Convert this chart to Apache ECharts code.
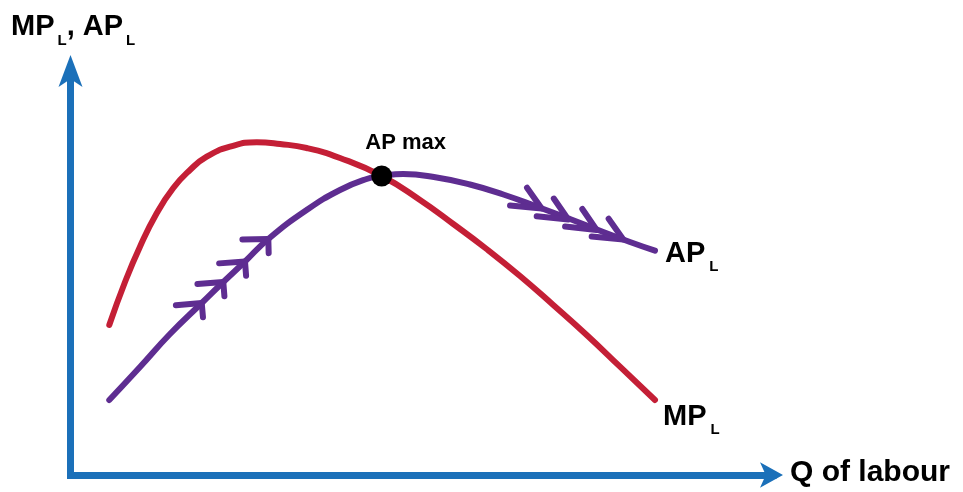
<!DOCTYPE html>
<html>
<head>
<meta charset="utf-8">
<script src="https://cdn.jsdelivr.net/npm/echarts@6/dist/echarts.min.js"></script>
<style>
html,body{margin:0;padding:0;background:#fff;}
#chart{width:963px;height:492px;}
</style>
</head>
<body>
<div id="chart"></div>
<script>
// Quantity of labour (x) and product values (y) (abstract units 0-100)
const mpX = [5.52, 7.76, 9.89, 12.27, 14.63, 17.01, 19.39, 22.70, 26.51, 29.82, 33.62, 38.36, 44.30, 49.75, 54.49, 59.23, 63.99, 68.72, 73.48, 78.22, 83.20];
const mpY = [36.86, 47.42, 56.09, 64.30, 70.52, 74.94, 78.21, 80.66, 81.77, 81.33, 80.34, 77.89, 73.46, 67.57, 61.67, 55.53, 48.89, 41.77, 34.40, 26.61, 18.43];
const apX = [5.52, 9.89, 14.16, 18.68, 21.75, 24.84, 28.16, 33.62, 38.36, 42.16, 44.30, 47.37, 52.13, 56.87, 61.61, 66.36, 71.10, 75.84, 79.64, 83.20];
const apY = [18.43, 26.54, 34.64, 42.26, 47.42, 52.46, 57.99, 65.11, 70.02, 72.73, 73.46, 73.96, 73.10, 71.38, 68.92, 65.97, 62.90, 59.71, 57.25, 55.11];
// direction chevrons on the AP curve (tip positions)
const chevUpX = [18.68, 21.75, 24.84, 28.16];
const chevUpY = [42.26, 47.42, 52.46, 57.99];
const chevDownX = [67.07, 70.86, 74.90, 78.69];
const chevDownY = [65.48, 62.78, 60.20, 57.86];
// maximum of AP
const apMaxPoint = [44.30, 73.46];
const apMaxLabel = 'AP max';
const yAxisTitle = ['MP', 'L', ', AP', 'L'];
const xAxisTitle = 'Q of labour';
const apLabel = ['AP', 'L'];
const mpLabel = ['MP', 'L'];

const BLUE = '#1b70b9', RED = '#c41f36', PURPLE = '#5e2d91';
const FONT = 'Liberation Sans, Arial, sans-serif';

function zip(a, b) { return a.map((v, i) => [v, b[i]]); }
function apAt(x) {
  for (let i = 0; i < apX.length - 1; i++) {
    if (x >= apX[i] && x <= apX[i + 1]) {
      const t = (x - apX[i]) / (apX[i + 1] - apX[i]);
      return apY[i] + t * (apY[i + 1] - apY[i]);
    }
  }
  return x < apX[0] ? apY[0] : apY[apY.length - 1];
}
function chevronRender(arms) {
  return function (params, api) {
    const x = api.value(0), y = api.value(1);
    const tip = api.coord([x, y]);
    const p1 = api.coord([x - 1.2, apAt(x - 1.2)]);
    const p2 = api.coord([x + 1.2, apAt(x + 1.2)]);
    let ux = p2[0] - p1[0], uy = p2[1] - p1[1];
    const L = Math.hypot(ux, uy); ux /= L; uy /= L;
    const nx = -uy, ny = ux;
    const pts = arms.map(a => [tip[0] + a[0] * ux + a[1] * nx, tip[1] + a[0] * uy + a[1] * ny]);
    return {
      type: 'polyline',
      shape: { points: [pts[0], tip, pts[1]] },
      style: { stroke: PURPLE, lineWidth: 6, fill: null, lineCap: 'round', lineJoin: 'round' }
    };
  };
}

function richTitle(parts, big, small, pad, gap) {
  let s = '';
  parts.forEach((p, i) => { s += (i % 2 === 0 ? '{a|' : '{b|') + p + '}'; });
  return {
    text: s,
    rich: {
      a: { fontSize: big, fontWeight: 'bold', fontFamily: FONT, fill: '#000', lineHeight: big, verticalAlign: 'top' },
      b: { fontSize: small, fontWeight: 'bold', fontFamily: FONT, fill: '#000', lineHeight: small, padding: [pad, 0, 0, gap], verticalAlign: 'top' }
    }
  };
}

const chart = echarts.init(document.getElementById('chart'), null, { renderer: 'canvas' });
chart.setOption({
  animation: false,
  backgroundColor: '#fff',
  grid: { left: 70.5, right: 190, top: 68, bottom: 17 },
  xAxis: {
    type: 'value', min: 0, max: 100,
    axisLine: { show: true, symbol: ['none', 'arrow'], symbolSize: [19, 23], symbolOffset: [0, 10],
      lineStyle: { color: BLUE, width: 7, cap: 'square' } },
    axisTick: { show: false }, axisLabel: { show: false }, splitLine: { show: false }
  },
  yAxis: {
    type: 'value', min: 0, max: 100,
    axisLine: { show: true, symbol: ['none', 'arrow'], symbolSize: [18, 32], symbolOffset: [0, 13],
      lineStyle: { color: BLUE, width: 7, cap: 'square' } },
    axisTick: { show: false }, axisLabel: { show: false }, splitLine: { show: false }
  },
  series: [
    {
      name: 'MP', type: 'line', data: zip(mpX, mpY), smooth: 0.5, showSymbol: false,
      lineStyle: { color: RED, width: 6, cap: 'round', join: 'round' }, z: 2
    },
    {
      name: 'AP', type: 'line', data: zip(apX, apY), smooth: 0.5, showSymbol: false,
      lineStyle: { color: PURPLE, width: 6, cap: 'round', join: 'round' }, z: 3
    },
    {
      name: 'AP rising', type: 'custom', coordinateSystem: 'cartesian2d', data: zip(chevUpX, chevUpY),
      encode: { x: 0, y: 1 }, clip: false, z: 4,
      renderItem: chevronRender([[-20, -16.5], [-9, 11]])
    },
    {
      name: 'AP falling', type: 'custom', coordinateSystem: 'cartesian2d', data: zip(chevDownX, chevDownY),
      encode: { x: 0, y: 1 }, clip: false, z: 4,
      renderItem: chevronRender([[-21, -14.4], [-30.7, 8.2]])
    },
    {
      name: 'AP max', type: 'scatter', data: [apMaxPoint], symbol: 'circle', symbolSize: 21,
      itemStyle: { color: '#000', opacity: 1 }, z: 5,
      label: { show: true, formatter: apMaxLabel, position: 'top', distance: 12, offset: [24, 0],
        color: '#000', fontSize: 22, fontWeight: 'bold', fontFamily: FONT }
    }
  ],
  graphic: [
    { type: 'text', left: 11, top: 12, style: richTitle(yAxisTitle, 29, 15, 21, 3) },
    { type: 'text', left: 790, top: 458, style: { text: xAxisTitle, fill: '#000', fontSize: 30, fontWeight: 'bold', fontFamily: FONT } },
    { type: 'text', left: 665, top: 239, style: richTitle(apLabel, 29, 15, 20, 4) },
    { type: 'text', left: 663, top: 402, style: richTitle(mpLabel, 29, 15, 20, 4) }
  ]
});
</script>
</body>
</html>
